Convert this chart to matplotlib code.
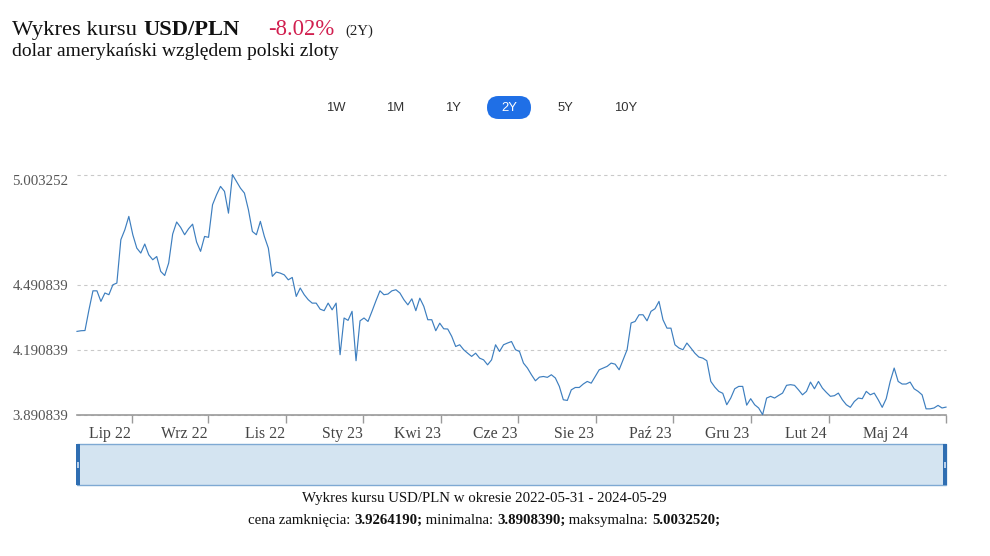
import matplotlib
matplotlib.use('Agg')
import matplotlib.pyplot as plt
from matplotlib.patches import FancyBboxPatch, Rectangle
import numpy as np

# ---------------- data ----------------
usd_pln = [
    4.277, 4.280, 4.281, 4.377, 4.465, 4.465, 4.416, 4.455, 4.447, 4.493,
    4.501, 4.702, 4.748, 4.810, 4.725, 4.663, 4.640, 4.682, 4.632, 4.609,
    4.624, 4.555, 4.536, 4.594, 4.728, 4.784, 4.759, 4.725, 4.753, 4.774,
    4.691, 4.648, 4.717, 4.713, 4.864, 4.910, 4.949, 4.926, 4.825, 5.0033,
    4.972, 4.941, 4.918, 4.841, 4.740, 4.725, 4.787, 4.717, 4.663, 4.532,
    4.552, 4.547, 4.539, 4.516, 4.527, 4.439, 4.478, 4.447, 4.424, 4.408,
    4.408, 4.380, 4.373, 4.408, 4.377, 4.408, 4.169, 4.339, 4.328, 4.370,
    4.141, 4.326, 4.339, 4.323, 4.370, 4.419, 4.465, 4.447, 4.450, 4.465,
    4.470, 4.455, 4.424, 4.400, 4.428, 4.373, 4.431, 4.393, 4.331, 4.331,
    4.280, 4.315, 4.289, 4.288, 4.254, 4.207, 4.215, 4.192, 4.176, 4.161,
    4.176, 4.153, 4.145, 4.122, 4.145, 4.215, 4.184, 4.215, 4.223, 4.230,
    4.192, 4.184, 4.130, 4.107, 4.076, 4.048, 4.065, 4.068, 4.064, 4.076,
    4.061, 4.022, 3.960, 3.957, 4.006, 4.017, 4.017, 4.033, 4.045, 4.037,
    4.068, 4.099, 4.107, 4.115, 4.130, 4.125, 4.099, 4.146, 4.192, 4.316,
    4.323, 4.354, 4.354, 4.326, 4.370, 4.382, 4.416, 4.331, 4.292, 4.292,
    4.215, 4.200, 4.192, 4.223, 4.200, 4.176, 4.158, 4.153, 4.141, 4.045,
    4.019, 3.999, 3.990, 3.937, 3.968, 4.011, 4.022, 4.022, 3.935, 3.965,
    3.937, 3.922, 3.8908, 3.968, 3.976, 3.968, 3.980, 3.991, 4.027, 4.030,
    4.027, 4.006, 3.983, 3.999, 4.042, 4.011, 4.045, 4.014, 3.994, 3.976,
    3.979, 3.991, 3.960, 3.937, 3.925, 3.952, 3.968, 3.965, 3.999, 3.983,
    3.991, 3.960, 3.925, 3.965, 4.045, 4.107, 4.045, 4.033, 4.033, 4.042,
    4.011, 3.999, 3.983, 3.918, 3.918, 3.922, 3.934, 3.922, 3.926,
]
y_ticks = [3.890839, 4.190839, 4.490839, 5.003252]
y_tick_labels = ['3.890839', '4.190839', '4.490839', '5.003252']
month_labels = ['Lip 22', 'Wrz 22', 'Lis 22', 'Sty 23', 'Kwi 23', 'Cze 23',
                'Sie 23', 'Paź 23', 'Gru 23', 'Lut 24', 'Maj 24']
range_buttons = ['1W', '1M', '1Y', '2Y', '5Y', '10Y']
active_range = '2Y'
pair = 'USD/PLN'
change_pct = '-8.02%'
subtitle = 'dolar amerykański względem polski zloty'
date_from, date_to = '2022-05-31', '2024-05-29'
close_price, min_price, max_price = '3.9264190', '3.8908390', '5.0032520'

# ---------------- layout / style ----------------
W, H = 990, 556
SERIF = ['Liberation Serif', 'DejaVu Serif']
SANS = ['Liberation Sans', 'DejaVu Sans']
LINE_C = '#3d7ebf'

fig = plt.figure(figsize=(W / 100, H / 100), dpi=100)
fig.patch.set_facecolor('white')

# overlay in pixel coordinates for header/footer/navigator
ov = fig.add_axes([0, 0, 1, 1])
ov.set_xlim(0, W)
ov.set_ylim(H, 0)
ov.axis('off')

def fx(px):
    return px / W

def fy(py):
    return 1 - py / H

ax_l, ax_r, ax_t, ax_b = 77, 946, 174.7, 414.7
ax = fig.add_axes([fx(ax_l), fy(ax_b), fx(ax_r) - fx(ax_l), fy(ax_t) - fy(ax_b)])
ax.patch.set_alpha(0)

n = len(usd_pln)
x = np.arange(n)
ax.plot(x, usd_pln, color=LINE_C, lw=0.85, clip_on=False, zorder=3)
ax.set_xlim(0, n - 1)
ax.set_ylim(y_ticks[0], y_ticks[-1])

for s in ['top', 'left', 'right']:
    ax.spines[s].set_visible(False)
ax.spines['bottom'].set_color('#9a9a9a')
ax.spines['bottom'].set_linewidth(1.2)

# y axis
ax.set_yticks(y_ticks, y_tick_labels)
ax.tick_params(axis='y', length=0, pad=46.5, labelsize=10.7, labelcolor='#555555')
for t in ax.get_yticklabels():
    t.set_fontfamily(SERIF)
    t.set_ha('left')
ax.get_yticklabels()[-1].set_va('top')
ax.grid(axis='y', linestyle=(0, (3, 3)), color='#c9c9c9', lw=0.8)
for gl in ax.get_ygridlines():
    gl.set_clip_on(False)
ax.set_axisbelow(True)

# x axis: tick marks (major) and month labels (minor)
tick_frac = [0.0629, 0.1511, 0.2405, 0.3295, 0.4189, 0.5078, 0.5972,
             0.6862, 0.7756, 0.8654, 1.0]
label_frac = [0.038, 0.1231, 0.2163, 0.3049, 0.3913, 0.4810, 0.5719,
              0.6594, 0.7480, 0.8389, 0.9310]
ax.set_xticks([f * (n - 1) for f in tick_frac], [''] * len(tick_frac))
ax.set_xticks([f * (n - 1) for f in label_frac], month_labels, minor=True)
ax.tick_params(axis='x', which='major', length=6, width=1, color='#9a9a9a')
ax.tick_params(axis='x', which='minor', length=0, pad=8, labelsize=11.3,
               labelcolor='#444444')
for t in ax.get_xticklabels(minor=True):
    t.set_fontfamily(SERIF)

# ---------------- header ----------------
fig.canvas.draw()
rend = fig.canvas.get_renderer()

def run(parts, x0, y, size, family=SERIF, ha='left'):
    """draw consecutive text runs; parts = [(text, weight, color)]"""
    arts = []
    for txt, wt, col in parts:
        a = ov.text(0, y, txt, fontsize=size, fontweight=wt, color=col,
                    family=family, va='baseline', ha='left')
        arts.append(a)
    widths = [a.get_window_extent(rend).width for a in arts]
    total = sum(widths)
    start = x0 - total / 2 if ha == 'center' else x0
    cx = start
    for a, w in zip(arts, widths):
        a.set_x(cx)
        cx += w
    return arts

run([('Wykres kursu ', 'normal', '#111111'), (pair, 'bold', '#111111')], 12.5, 35, 16.2)
ov.text(268, 35, change_pct, fontsize=16.3, color='#d11f4f', family=SERIF, va='baseline')
ov.text(345, 35, '(2Y)', fontsize=10.7, color='#222222', family=SERIF, va='baseline')
ov.text(12.5, 56, subtitle, fontsize=14, color='#111111', family=SERIF, va='baseline')

# range buttons
btn_x = [336, 395, 453, 509, 565, 626]
for lbl, bx in zip(range_buttons, btn_x):
    if lbl == active_range:
        ov.add_patch(FancyBboxPatch((bx - 22, 96), 44, 23,
                                    boxstyle='round,pad=0,rounding_size=11.5',
                                    fc='#1f6fe6', ec='none'))
        col = 'white'
    else:
        col = '#333333'
    ov.text(bx, 108, lbl, fontsize=9.4, color=col, family=SANS, ha='center', va='center')

# ---------------- navigator ----------------
ov.add_patch(Rectangle((77, 444), 869, 41, fc='#d4e4f1', ec='#7ea9d3', lw=1))
for hx in (76, 943):
    ov.add_patch(Rectangle((hx, 444), 4, 41, fc='#2f6eb2', ec='none'))
    ov.add_patch(Rectangle((hx + 1.2, 461.5), 1.6, 6, fc='#b9d0ea', ec='none'))

# ---------------- footer ----------------
run([(f'Wykres kursu {pair} w okresie {date_from} - {date_to}', 'normal', '#111111')],
    484, 502, 10.7, ha='center')
run([('cena zamknięcia: ', 'normal', '#111111'), (close_price + ';', 'bold', '#111111'),
     (' minimalna: ', 'normal', '#111111'), (min_price + ';', 'bold', '#111111'),
     (' maksymalna: ', 'normal', '#111111'), (max_price + ';', 'bold', '#111111')],
    484, 524, 10.7, ha='center')

fig.savefig('out.png', dpi=100, facecolor='white')
